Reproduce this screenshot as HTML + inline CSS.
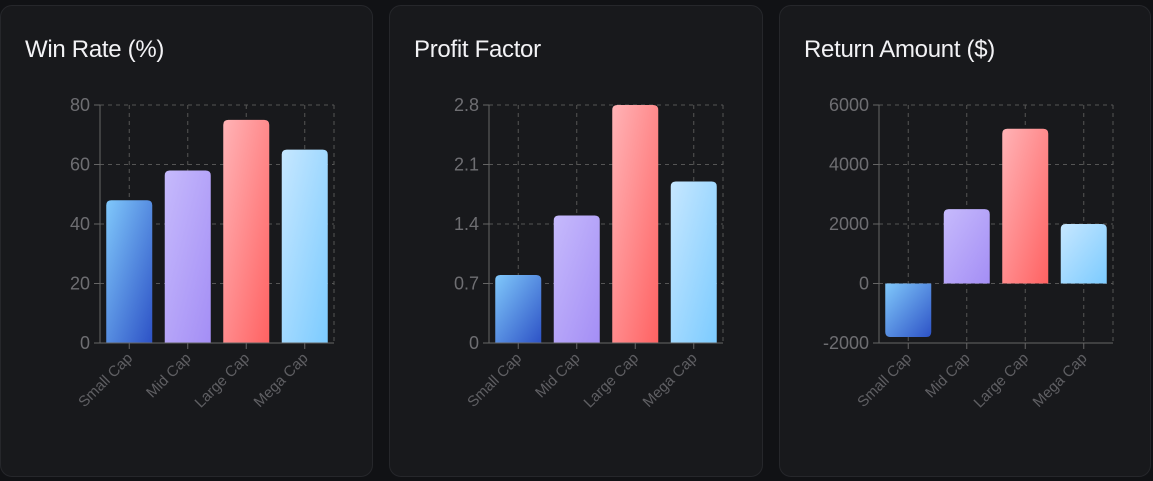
<!DOCTYPE html>
<html><head><meta charset="utf-8"><style>
html,body{margin:0;padding:0;background:#111215;width:1153px;height:481px;overflow:hidden;font-family:"Liberation Sans",sans-serif}
.card{position:absolute;top:5px;height:472px;background:#18191c;border:1px solid #26272b;border-radius:12px;box-sizing:border-box}
.title{position:absolute;left:24px;top:30px;color:#f2f2f5;font-size:24px;letter-spacing:-0.3px}
svg{position:absolute;left:0;top:0}
</style></head><body>
<div class="card" style="left:0;width:373px"><div class="title">Win Rate (%)</div><svg id="c1" width="373" height="472"></svg></div>
<div class="card" style="left:389px;width:374px"><div class="title">Profit Factor</div><svg id="c2" width="374" height="472"></svg></div>
<div class="card" style="left:779px;width:372px"><div class="title">Return Amount ($)</div><svg id="c3" width="372" height="472"></svg></div>
<script>
const categories = ["Small Cap","Mid Cap","Large Cap","Mega Cap"];
const winRate = [48,58,75,65];
const winTicks = [0,20,40,60,80];
const profitFactor = [0.8,1.5,2.8,1.9];
const pfTicks = [0,0.7,1.4,2.1,2.8];
const returnAmount = [-1800,2500,5200,2000];
const retTicks = [-2000,0,2000,4000,6000];
const grads = [["#80c8fb","#2d52c6"],["#c6bafc","#a48ef5"],["#ffb3b6","#ff6262"],["#c6e7ff","#7ccbff"]];
const NS="http://www.w3.org/2000/svg";
function mk(svg,tag,attrs){const e=document.createElementNS(NS,tag);for(const k in attrs)e.setAttribute(k,attrs[k]);svg.appendChild(e);return e;}
function draw(id,values,ticks,fmt){
  const svg=document.getElementById(id);
  const x0=99,x1=333,yTop=99,yBot=337;
  const mn=ticks[0],mx=ticks[ticks.length-1];
  const y=v=>yBot-(v-mn)/(mx-mn)*(yBot-yTop);
  const band=(x1-x0)/values.length;
  const cx=i=>x0+band*(i+0.5);
  const defs=mk(svg,'defs',{});
  grads.forEach((g,i)=>{const lg=document.createElementNS(NS,'linearGradient');lg.setAttribute('id',id+'g'+i);lg.setAttribute('x1','0');lg.setAttribute('y1','0');lg.setAttribute('x2','1');lg.setAttribute('y2','1');
    const s1=document.createElementNS(NS,'stop');s1.setAttribute('offset','0');s1.setAttribute('stop-color',g[0]);
    const s2=document.createElementNS(NS,'stop');s2.setAttribute('offset','1');s2.setAttribute('stop-color',g[1]);lg.appendChild(s1);lg.appendChild(s2);defs.appendChild(lg);});
  ticks.forEach(t=>{
    if(t!==mn){const l=mk(svg,'line',{x1:x0,x2:x1,y1:y(t),y2:y(t),stroke:'#555',"stroke-dasharray":'4 4'});
    
    }
    mk(svg,'line',{x1:x0-6,x2:x0,y1:y(t),y2:y(t),stroke:'#666'});
    const tx=mk(svg,'text',{x:x0-10,y:y(t)+6,fill:'#6e6e72','font-size':'18','text-anchor':'end'});
    tx.textContent=fmt(t);
    
    
  });
  values.forEach((v,i)=>{const l=mk(svg,'line',{x1:cx(i),x2:cx(i),y1:yTop,y2:yBot,stroke:'#555',"stroke-dasharray":'4 4'});
    
    });
  mk(svg,'line',{x1:x1,x2:x1,y1:yTop,y2:yBot,stroke:'#555',"stroke-dasharray":'4 4'});
  const base=(mn<0)?0:mn;
  values.forEach((v,i)=>{
    const w=46,bx=cx(i)-w/2,ya=y(Math.max(v,base)),yb=y(Math.min(v,base)),h=yb-ya,r=5;
    let d;
    if(v>=base) d=`M${bx},${yb}V${ya+r}Q${bx},${ya} ${bx+r},${ya}H${bx+w-r}Q${bx+w},${ya} ${bx+w},${ya+r}V${yb}Z`;
    else d=`M${bx},${ya}V${yb-r}Q${bx},${yb} ${bx+r},${yb}H${bx+w-r}Q${bx+w},${yb} ${bx+w},${yb-r}V${ya}Z`;
    const p=mk(svg,'path',{d:d,fill:`url(#${id}g${i})`});
    
    
  });
  mk(svg,'line',{x1:x0,x2:x0,y1:yTop,y2:yBot,stroke:'#666'});
  mk(svg,'line',{x1:x0,x2:x1,y1:yBot,y2:yBot,stroke:'#666'});
  categories.forEach((c,i)=>{
    mk(svg,'line',{x1:cx(i),x2:cx(i),y1:yBot,y2:yBot+6,stroke:'#666'});
    const t=mk(svg,'text',{x:cx(i)+4,y:yBot+16,fill:'#5f5f63','font-size':'15','text-anchor':'end',transform:`rotate(-45 ${cx(i)+4} ${yBot+16})`});
    t.textContent=c;
    
    
  });
}
draw('c1',winRate,winTicks,t=>String(t));
draw('c2',profitFactor,pfTicks,t=>String(t));
draw('c3',returnAmount,retTicks,t=>String(t));
</script>
</body></html>
